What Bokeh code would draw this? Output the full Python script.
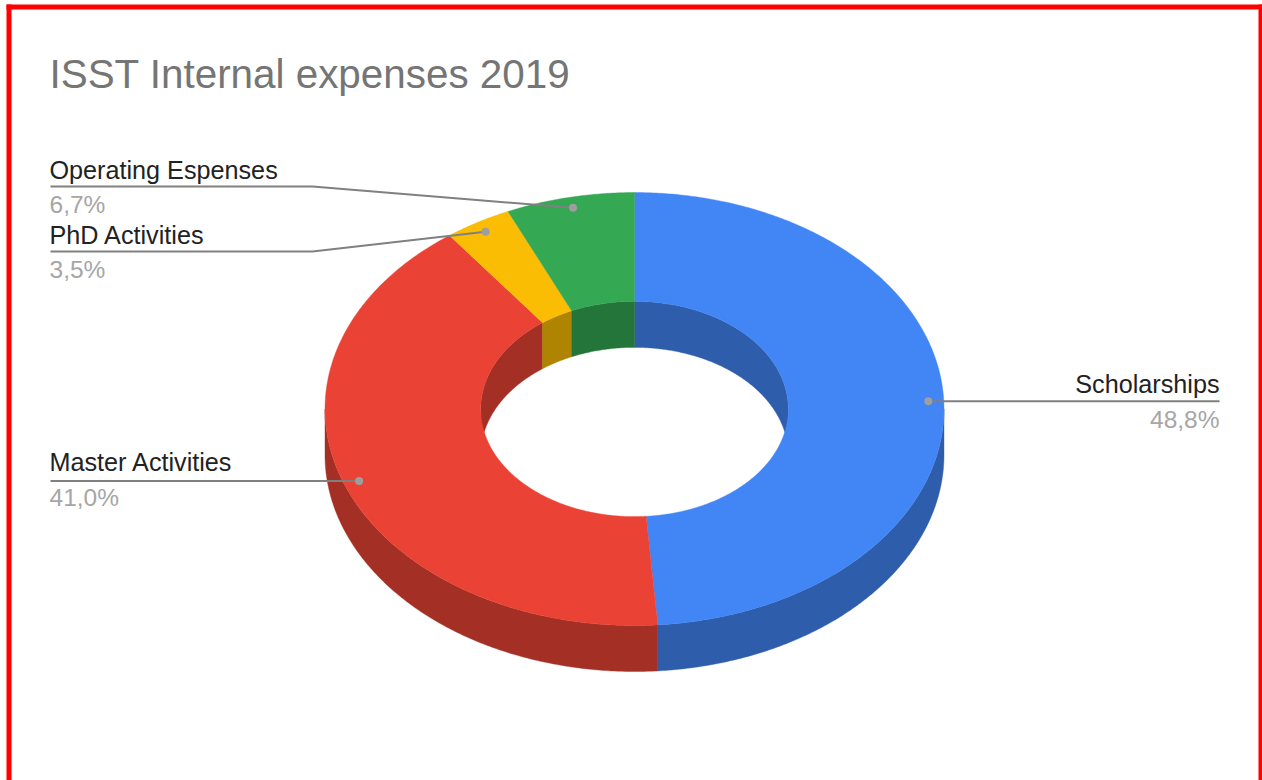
import math
from bokeh.plotting import figure
from bokeh.models import Range1d
from bokeh.core.properties import value
from bokeh.embed import file_html
from bokeh.resources import INLINE

# ---- data ----
TITLE = "ISST Internal expenses 2019"
categories = ["Scholarships", "Master Activities", "PhD Activities", "Operating Espenses"]
shares = [48.8, 41.0, 3.5, 6.7]
share_labels = ["48,8%", "41,0%", "3,5%", "6,7%"]
top_colors = ["#4285F4", "#EA4335", "#FBBC04", "#34A853"]
side_colors = ["#2E5DAB", "#A42F25", "#B08403", "#24753A"]

# ---- layout (page pixels) ----
CX, CY = 634.0, 408.5
RX, RY = 309.5, 216.5
HOLE = 0.497
DEPTH = 46
DOT_R = 0.95
FONT = "Liberation Sans"
LEFT_X, RIGHT_X, ELBOW_X = 50, 1219, 312
label_side = ["right", "left", "left", "left"]
label_y = [None, None, 251, 186]   # None: line is horizontal at the anchor height
label_nudge = [0, -2, 0, 0]

p = figure(width=1262, height=780, output_backend="svg", toolbar_location=None,
           x_range=Range1d(0, 1262), y_range=Range1d(780, 0),
           x_axis_location=None, y_axis_location=None, min_border=0,
           outline_line_color=None, background_fill_color="white",
           border_fill_color="white")
p.grid.visible = False
p.styles = {"position": "absolute", "left": "0px", "top": "0px"}


def pt(t, k=1.0, dy=0.0):
    return CX + RX * k * math.sin(t), CY - RY * k * math.cos(t) + dy


def arc(a, b, k=1.0, dy=0.0, n=None):
    n = n or max(2, int(abs(b - a) / math.radians(0.5)))
    return [pt(a + (b - a) * i / n, k, dy) for i in range(n + 1)]


def poly(points, color):
    p.patch([q[0] for q in points], [q[1] for q in points], fill_color=color,
            line_color=color, line_width=0.4)


bounds = [0.0]
for s in shares:
    bounds.append(bounds[-1] + s / sum(shares) * 2 * math.pi)
spans = list(zip(bounds[:-1], bounds[1:]))

for (a, b), c in zip(spans, side_colors):
    lo, hi = max(a, math.pi / 2), min(b, 3 * math.pi / 2)
    if lo < hi:
        poly(arc(lo, hi) + arc(hi, lo, dy=DEPTH), c)

for (a, b), c in zip(spans, side_colors):
    for lo, hi in ((max(a, 0), min(b, math.pi / 2)),
                   (max(a, 3 * math.pi / 2), min(b, 2 * math.pi))):
        if lo < hi:
            poly(arc(lo, hi, HOLE) + arc(hi, lo, HOLE, dy=DEPTH), c)

for (a, b), c in zip(spans, top_colors):
    poly(arc(a, b) + arc(b, a, HOLE), c)

for (a, b), name, lab, side, ly, nudge in zip(spans, categories, share_labels,
                                              label_side, label_y, label_nudge):
    ax, ay = pt((a + b) / 2, DOT_R)
    if ly is None:
        ly = ay
        xs = [ax, RIGHT_X if side == "right" else LEFT_X]
        ys = [ay, ay]
    else:
        xs = [ax, ELBOW_X, LEFT_X]
        ys = [ay, ly, ly]
    p.line(xs, ys, line_color="#808080", line_width=2)
    p.scatter([ax], [ay], size=8, fill_color="#9E9E9E", line_color=None)
    tx = RIGHT_X if side == "right" else LEFT_X - 1
    p.text([tx], [ly - 17 + nudge], text=[name], text_font=value(FONT), text_font_size="25.2px",
           text_color="#222222", text_align=side, text_baseline="alphabetic")
    p.text([tx], [ly + 18 + nudge], text=[lab], text_font=value(FONT), text_font_size="24.5px",
           text_color="#A6A6A6", text_align=side, text_baseline="alphabetic")

p.text([LEFT_X - 1], [73], text=[TITLE], text_font=value(FONT), text_font_size="40.4px",
       text_color="#757575", text_align="left", text_baseline="alphabetic")

p.quad(left=[6, 6, 1258], right=[11, 1262, 1262], top=[4, 4, 4], bottom=[780, 9, 780],
       fill_color="#FF0000", line_color=None)

open("out.html", "w").write(file_html(p, INLINE))
